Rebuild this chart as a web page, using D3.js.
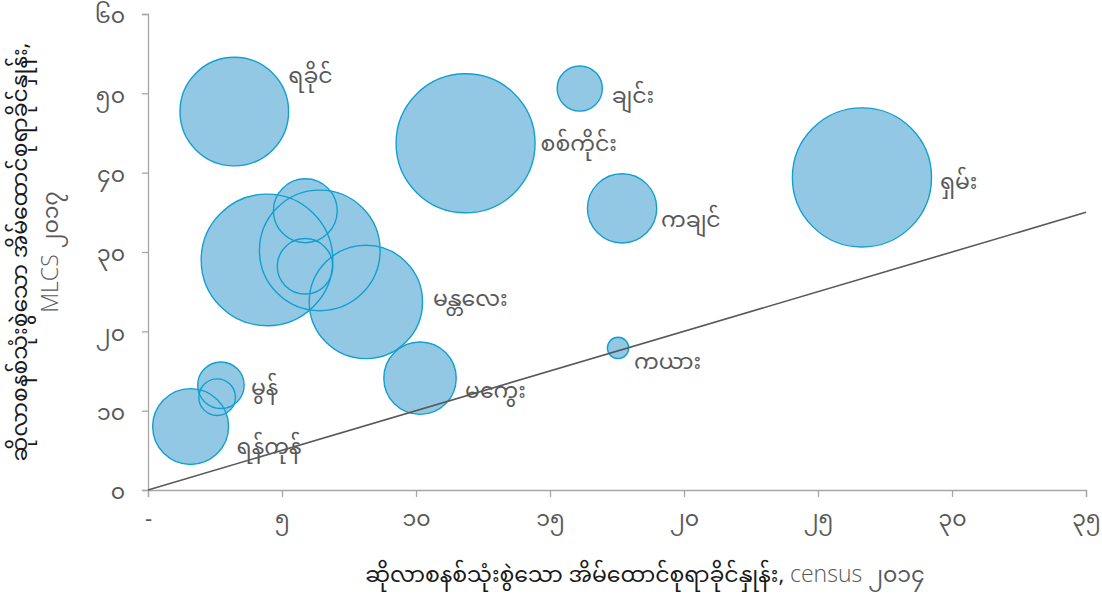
<!DOCTYPE html>
<html>
<head>
<meta charset="utf-8">
<script src="https://cdn.jsdelivr.net/npm/d3@7"></script>
<style>
  html, body { margin: 0; padding: 0; background: #fff; }
  svg { display: block; }
  text { font-family: "Noto Sans Myanmar", "Open Sans", "Noto Sans", "DejaVu Sans", sans-serif; }
  .lat { font-family: "Open Sans", "Noto Sans", sans-serif; font-weight: 300; font-size: 23px; }
</style>
</head>
<body>
<svg id="chart" width="1102" height="598"></svg>
<script>
// ---- data ----
const regions = ["ရခိုင်", "ချင်း", "စစ်ကိုင်း", "ရှမ်း", "ကချင်", "ကယား", "မကွေး", "မန္တလေး", "မွန်", "ရန်ကုန်",
                 "နေပြည်တော်", "ဧရာဝတီ", "ပဲခူး", "ကရင်", "တနင်္သာရီ"];
const showLabel = [true, true, true, true, true, true, true, true, true, true, false, false, false, false, false];
const censusPct = [3.22, 16.11, 11.85, 26.64, 17.69, 17.54, 10.15, 8.13, 2.72, 1.59, 2.58, 4.44, 6.41, 5.87, 5.86];
const mlcsPct   = [47.7, 50.6, 43.7, 39.4, 35.5, 17.9, 14.1, 23.7, 13.2, 8.0, 11.7, 29.0, 30.2, 35.2, 28.2];
const sizeVal   = [295, 51, 483, 484, 120, 11.4, 131, 321, 54, 144, 33.5, 433, 364, 102, 77];
const xTickValues = [0, 5, 10, 15, 20, 25, 30, 35];
const xTickLabels = ["-", "၅", "၁၀", "၁၅", "၂၀", "၂၅", "၃၀", "၃၅"];
const yTickValues = [0, 10, 20, 30, 40, 50, 60];
const yTickLabels = ["၀", "၁၀", "၂၀", "၃၀", "၄၀", "၅၀", "၆၀"];
const xTitleMy = "ဆိုလာစနစ်သုံးစွဲသော အိမ်ထောင်စုရာခိုင်နှုန်း, ";
const xTitleEn = "census ";
const xTitleYear = "၂၀၁၄";
const yTitle1 = "ဆိုလာစနစ်သုံးစွဲသော အိမ်ထောင်စုရာခိုင်နှုန်း,";
const yTitle2En = "MLCS ";
const yTitle2Year = "၂၀၁၇";
// label offsets (px) from bubble centre
const labelDx = [54, 32, 75, 78, 39, 16, 45, 67, 30, 46, 0, 0, 0, 0, 0];
const labelDy = [-34, 9, 2, 6, 13, 15, 14, -2, 4, 22, 0, 0, 0, 0, 0];

const data = regions.map((n, i) => ({
  name: n, x: censusPct[i], y: mlcsPct[i], s: sizeVal[i], show: showLabel[i],
  dx: labelDx[i], dy: labelDy[i]
}));

// ---- layout ----
const svg = d3.select("#chart");
const x = d3.scaleLinear().domain([0, 35]).range([148, 1086]);
const y = d3.scaleLinear().domain([0, 60]).range([490, 14]);
const r = d3.scaleSqrt().domain([0, 500]).range([0, Math.sqrt(5000)]);

const axisColor = "#a6a6a6";
const textColor = "#595959";
const fs = "22px";

// Y axis
const yAxis = svg.append("g").attr("transform", `translate(${x(0)},0)`)
  .call(d3.axisLeft(y).tickValues(yTickValues).tickFormat((d, i) => yTickLabels[i]).tickSize(6).tickPadding(17));
yAxis.select(".domain").attr("stroke", axisColor).attr("stroke-width", 1.3);
yAxis.selectAll(".tick line").attr("stroke", axisColor).attr("stroke-width", 1.3);
yAxis.selectAll(".tick text").attr("fill", textColor).style("font-size", fs).attr("dy", "0.4em");

// X axis
const xAxis = svg.append("g").attr("transform", `translate(0,${y(0)})`)
  .call(d3.axisBottom(x).tickValues(xTickValues).tickFormat((d, i) => xTickLabels[i]).tickSize(7).tickPadding(13));
xAxis.select(".domain").attr("stroke", axisColor).attr("stroke-width", 1.3);
xAxis.selectAll(".tick line").attr("stroke", axisColor).attr("stroke-width", 1.3);
xAxis.selectAll(".tick text").attr("fill", textColor).style("font-size", fs);

// Bubbles: fills then outlines
svg.append("g").selectAll("circle").data(data).join("circle")
  .attr("cx", d => x(d.x)).attr("cy", d => y(d.y)).attr("r", d => r(d.s))
  .attr("fill", "#93c8e4");
svg.append("g").selectAll("circle").data(data).join("circle")
  .attr("cx", d => x(d.x)).attr("cy", d => y(d.y)).attr("r", d => r(d.s))
  .attr("fill", "none").attr("stroke", "#11a0cf").attr("stroke-width", 1.4);

// Labels
svg.append("g").selectAll("text").data(data.filter(d => d.show)).join("text")
  .attr("x", d => x(d.x) + d.dx).attr("y", d => y(d.y) + d.dy)
  .attr("dominant-baseline", "middle")
  .attr("fill", textColor).style("font-size", fs)
  .text(d => d.name);

// y = x reference line
svg.append("line")
  .attr("x1", x(0)).attr("y1", y(0)).attr("x2", x(35)).attr("y2", y(35))
  .attr("stroke", "#595959").attr("stroke-width", 1.6);

// X title
const xt = svg.append("text").attr("x", 645).attr("y", 582).attr("text-anchor", "middle")
  .style("font-size", fs);
xt.append("tspan").attr("fill", "#1a1a1a").text(xTitleMy);
xt.append("tspan").attr("class", "lat").attr("fill", textColor).text(xTitleEn);
xt.append("tspan").attr("fill", textColor).text(xTitleYear);

// Y title
const yt = svg.append("g").attr("transform", "translate(0,252) rotate(-90)");
yt.append("text").attr("x", 0).attr("y", 27).attr("text-anchor", "middle")
  .attr("fill", "#1a1a1a").style("font-size", fs).text(yTitle1);
const yt2 = yt.append("text").attr("x", 0).attr("y", 58).attr("text-anchor", "middle")
  .style("font-size", fs);
yt2.append("tspan").attr("class", "lat").attr("fill", textColor).text(yTitle2En);
yt2.append("tspan").attr("fill", textColor).text(yTitle2Year);
</script>
</body>
</html>
